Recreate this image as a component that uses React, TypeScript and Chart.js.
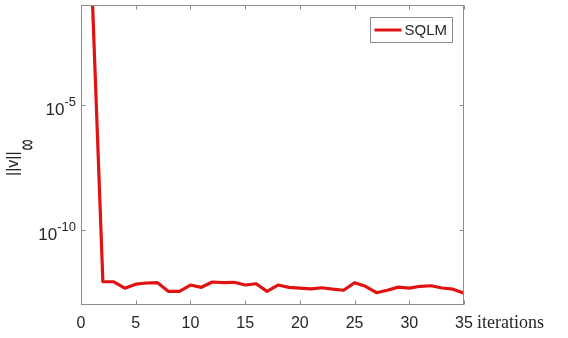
import { useEffect, useRef } from 'react';
import { Chart, registerables } from 'chart.js';

Chart.register(...registerables);

// ---- data ----
const iterations = [
  1, 2, 3, 4, 5, 6, 7, 8, 9, 10,
  11, 12, 13, 14, 15, 16, 17, 18, 19, 20,
  21, 22, 23, 24, 25, 26, 27, 28, 29, 30,
  31, 32, 33, 34, 35,
];
const residuals = [
  5e-1, 8.5e-13, 8.5e-13, 4.7e-13, 6.8e-13, 7.6e-13, 7.8e-13, 3.5e-13, 3.5e-13, 6.3e-13,
  5.1e-13, 8.3e-13, 7.8e-13, 8.1e-13, 6.3e-13, 7.1e-13, 3.5e-13, 6.3e-13, 5.1e-13, 4.7e-13,
  4.4e-13, 4.9e-13, 4.3e-13, 3.9e-13, 7.8e-13, 5.6e-13, 3.1e-13, 3.9e-13, 5.2e-13, 4.7e-13,
  5.6e-13, 5.9e-13, 4.8e-13, 4.3e-13, 2.95e-13,
];
const xTicks = [0, 5, 10, 15, 20, 25, 30, 35];
const yTickExponents = [-10, -5];
const seriesLabel = 'SQLM';
const xLabel = 'iterations';
const yLabelBase = '||v||';
const yLabelSub = '\u221E';
const xMin = 0;
const xMax = 35;
const yMin = 1e-13;
const yMax = 1e-1;

const RED = '#e01212';
const AXIS = '#8c8c8c';
const TEXT = '#262626';
const SANS = '"Liberation Sans", Arial, Helvetica, sans-serif';
const SERIF = '"Liberation Serif", "Times New Roman", serif';

const decorPlugin = {
  id: 'matlabDecor',
  afterDraw(chart: any) {
    const { ctx, chartArea } = chart;
    const { left, right, top, bottom } = chartArea;
    const xs = chart.scales.x;
    const ys = chart.scales.y;
    ctx.save();

    // box
    ctx.strokeStyle = AXIS;
    ctx.lineWidth = 1;
    const L = Math.round(left) + 0.5;
    const R = Math.round(right) - 0.5;
    const T = Math.round(top) + 0.5;
    const B = Math.round(bottom) - 0.5;
    ctx.strokeRect(L, T, R - L, B - T);

    // ticks
    ctx.beginPath();
    xTicks.forEach((v) => {
      const px = Math.round(xs.getPixelForValue(v)) + 0.5;
      ctx.moveTo(px, B);
      ctx.lineTo(px, B - 4);
      ctx.moveTo(px, T);
      ctx.lineTo(px, T + 4);
    });
    yTickExponents.forEach((e) => {
      const py = Math.round(ys.getPixelForValue(Math.pow(10, e))) + 0.5;
      ctx.moveTo(L, py);
      ctx.lineTo(L + 4, py);
      ctx.moveTo(R, py);
      ctx.lineTo(R - 4, py);
    });
    ctx.stroke();

    // x tick labels
    ctx.fillStyle = TEXT;
    ctx.font = `16px ${SANS}`;
    ctx.textAlign = 'center';
    ctx.textBaseline = 'alphabetic';
    xTicks.forEach((v) => {
      ctx.fillText(String(v), xs.getPixelForValue(v), bottom + 23);
    });

    // y tick labels 10^e
    yTickExponents.forEach((e) => {
      const py = ys.getPixelForValue(Math.pow(10, e));
      const sup = String(e);
      ctx.font = `13px ${SANS}`;
      const supW = ctx.measureText(sup).width;
      const endX = left - 5;
      ctx.textAlign = 'right';
      ctx.fillText(sup, endX, py + 1);
      ctx.font = `17px ${SANS}`;
      ctx.fillText('10', endX - supW, py + 9.5);
    });

    // x label
    ctx.font = `18px ${SERIF}`;
    ctx.textAlign = 'left';
    ctx.fillText(xLabel, right + 13, bottom + 23);

    // y label (rotated)
    ctx.save();
    ctx.translate(18, 176);
    ctx.rotate(-Math.PI / 2);
    ctx.font = `16px ${SANS}`;
    ctx.textAlign = 'left';
    ctx.textBaseline = 'alphabetic';
    ctx.fillText(yLabelBase, 0, 0);
    const baseW = ctx.measureText(yLabelBase).width;
    ctx.translate(baseW + 1, 10);
    ctx.scale(1.05, 1.75);
    ctx.font = `15px ${SANS}`;
    ctx.textBaseline = 'middle';
    ctx.fillText(yLabelSub, 0, 0);
    ctx.restore();

    // legend
    const lx = 370.5, ly = 17.5, lw = 82, lh = 25;
    ctx.fillStyle = '#ffffff';
    ctx.fillRect(lx, ly, lw, lh);
    ctx.strokeStyle = AXIS;
    ctx.lineWidth = 1;
    ctx.strokeRect(lx, ly, lw, lh);
    ctx.strokeStyle = RED;
    ctx.lineWidth = 3;
    ctx.beginPath();
    ctx.moveTo(lx + 4, ly + lh / 2);
    ctx.lineTo(lx + 31, ly + lh / 2);
    ctx.stroke();
    ctx.fillStyle = TEXT;
    ctx.font = `15px ${SANS}`;
    ctx.textAlign = 'left';
    ctx.textBaseline = 'middle';
    ctx.fillText(seriesLabel, lx + 34, ly + lh / 2 + 1);

    ctx.restore();
  },
};

export default function App() {
  const canvasRef = useRef<HTMLCanvasElement | null>(null);

  useEffect(() => {
    const canvas = canvasRef.current;
    if (!canvas) return;
    const points = iterations.map((x, i) => ({ x, y: residuals[i] }));
    const chart = new Chart(canvas, {
      type: 'line',
      data: {
        datasets: [
          {
            label: seriesLabel,
            data: points,
            borderColor: RED,
            backgroundColor: RED,
            borderWidth: 3.2,
            pointRadius: 0,
            tension: 0,
            clip: 0,
            borderJoinStyle: 'round',
          } as any,
        ],
      },
      options: {
        animation: false,
        responsive: false,
        maintainAspectRatio: false,
        devicePixelRatio: 1,
        layout: { padding: { top: 5, right: 104, bottom: 0, left: 0 } },
        plugins: { legend: { display: false }, tooltip: { enabled: false } },
        scales: {
          x: {
            type: 'linear',
            min: xMin,
            max: xMax,
            grid: { display: false, drawTicks: false },
            border: { display: false },
            ticks: { display: false, stepSize: 5 },
            afterFit: (s: any) => {
              s.height = 33;
            },
          },
          y: {
            type: 'logarithmic',
            min: yMin,
            max: yMax,
            grid: { display: false, drawTicks: false },
            border: { display: false },
            ticks: { display: false },
            afterFit: (s: any) => {
              s.width = 81;
            },
          },
        },
      } as any,
      plugins: [decorPlugin],
    });
    return () => chart.destroy();
  }, []);

  return (
    <div style={{ position: 'fixed', left: 0, top: 0, width: 568, height: 338, background: '#fff' }}>
      <canvas ref={canvasRef} width={568} height={338} style={{ width: 568, height: 338, display: 'block' }} />
    </div>
  );
}
